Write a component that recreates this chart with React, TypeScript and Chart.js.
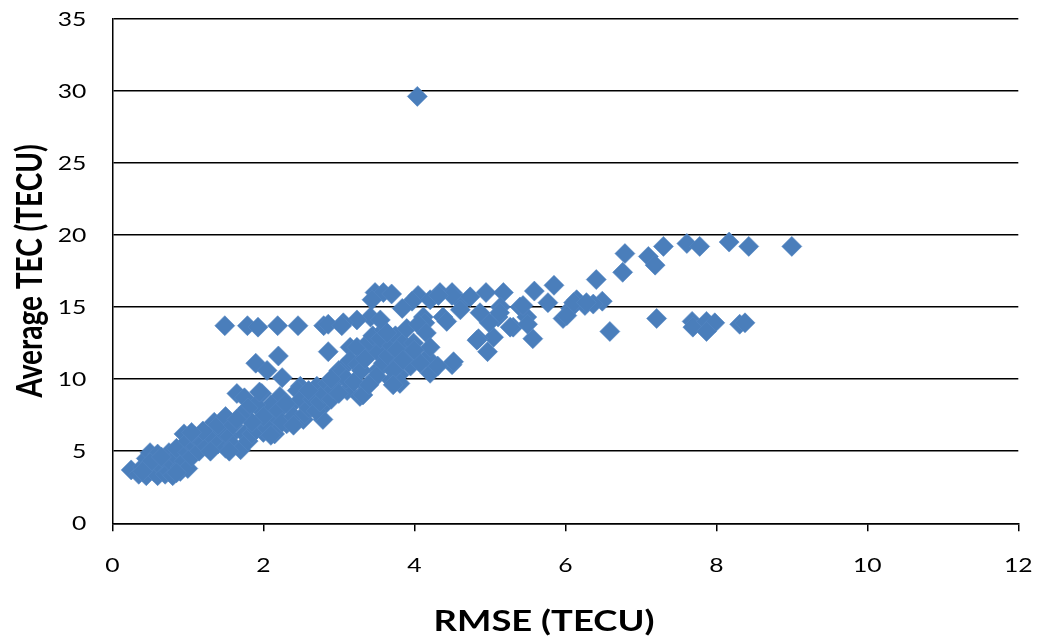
import React, { useEffect, useRef } from "react";
import { Chart, registerables } from "chart.js";

Chart.register(...registerables);

// ---- Data (RMSE in TECU, Average TEC in TECU) ----
const outlierPoints: [number, number][] = [[4.04, 29.6]];

const flatRowPoints: [number, number][] = [
  [1.49, 13.7], [1.79, 13.7], [1.93, 13.6], [2.19, 13.7], [2.46, 13.7],
  [2.8, 13.7], [2.86, 13.8], [3.04, 13.7],
];

const highRightPoints: [number, number][] = [
  [6.79, 18.7], [6.76, 17.4], [7.1, 18.5], [7.19, 17.9], [7.3, 19.2],
  [7.61, 19.4], [7.78, 19.2], [8.17, 19.5], [8.43, 19.2], [9.0, 19.2],
];

const lowRightPoints: [number, number][] = [
  [6.59, 13.3], [7.21, 14.2], [7.68, 14.0], [7.69, 13.6], [7.87, 14.0],
  [7.98, 13.9], [7.87, 13.3], [8.31, 13.8], [8.38, 13.9],
];

const midRightPoints: [number, number][] = [
  [6.41, 16.9], [6.49, 15.4], [6.15, 15.5], [6.07, 14.9], [5.97, 14.2],
  [6.26, 15.1], [6.37, 15.2], [6.11, 15.3], [6.28, 15.3], [6.02, 14.4],
  [5.85, 16.5], [5.59, 16.1], [5.77, 15.3], [5.57, 12.8], [5.4, 15.0],
  [5.49, 14.3], [5.31, 13.6], [5.5, 13.8], [5.18, 16.0], [4.95, 16.0],
  [5.11, 14.3], [5.14, 15.0], [5.05, 12.9], [4.97, 11.9], [4.85, 12.8],
  [5.44, 15.1], [5.27, 13.6], [5.13, 14.6], [4.99, 13.9], [4.74, 15.7],
  [4.87, 14.6], [4.83, 12.7],
];

const upperClusterPoints: [number, number][] = [
  [3.48, 16.0], [3.59, 16.0], [3.7, 15.9], [3.44, 15.5], [4.05, 15.8],
  [3.97, 15.4], [3.84, 14.9], [4.34, 16.0], [4.5, 16.0], [4.21, 15.5],
  [4.38, 14.3], [4.12, 14.3], [4.63, 15.3], [4.5, 15.8], [4.32, 15.8],
  [4.61, 14.8], [4.43, 14.0], [4.14, 13.9], [4.17, 11.5], [4.21, 10.4],
  [4.5, 11.0], [4.52, 11.2], [4.31, 10.9], [3.64, 13.2], [3.9, 13.5],
  [4.05, 13.8], [4.16, 13.2], [4.21, 12.2], [3.99, 12.5], [3.77, 12.0],
  [3.85, 11.3], [4.08, 11.1], [3.42, 14.3], [3.55, 14.1], [3.24, 14.1],
  [3.06, 13.9], [3.72, 10.6], [3.81, 9.7], [3.72, 9.6], [4.0, 12.0],
];

const midClusterPoints: [number, number][] = [
  [3.15, 12.2], [3.37, 11.8], [3.51, 10.6], [3.37, 9.5], [3.06, 10.8],
  [2.97, 9.9], [3.11, 9.2], [3.28, 8.8], [3.59, 11.8], [3.32, 8.9],
  [2.93, 9.3], [3.02, 10.4], [3.15, 11.3], [3.24, 12.2], [3.51, 11.9],
  [3.59, 11.1], [3.1, 10.0], [3.2, 9.8], [3.25, 11.0], [3.3, 10.6],
  [3.35, 11.4], [3.4, 12.6], [3.45, 13.0], [3.5, 10.2], [3.55, 12.8],
  [3.6, 13.4], [3.65, 11.6], [3.7, 12.3], [3.7, 9.9], [3.75, 13.0],
  [3.8, 11.1], [3.8, 10.3], [3.85, 12.5], [3.9, 11.6], [3.95, 10.9],
  [3.4, 9.6], [3.0, 9.0], [2.9, 10.0],
];

const leftIsolatedPoints: [number, number][] = [
  [2.86, 11.9], [2.2, 11.6], [1.9, 11.1], [2.05, 10.6], [2.25, 10.1],
];

const lowerMidPoints: [number, number][] = [
  [1.98, 9.0], [2.49, 9.5], [2.71, 9.5], [2.22, 8.8], [2.35, 8.1],
  [2.58, 8.3], [2.79, 8.1], [2.09, 7.2], [1.91, 6.5], [2.31, 6.9],
  [2.53, 7.2], [2.79, 7.2], [2.05, 6.6], [2.1, 8.2], [2.15, 6.2],
  [2.2, 7.8], [2.25, 7.0], [2.3, 8.3], [2.4, 7.4], [2.45, 9.2],
  [2.5, 8.6], [2.55, 7.6], [2.6, 8.0], [2.65, 8.6], [2.7, 7.8],
  [2.75, 8.4], [2.8, 9.0], [2.85, 9.7], [2.9, 8.6], [2.95, 10.2],
  [3.0, 10.6], [2.4, 6.8], [2.6, 9.2], [1.65, 9.0], [1.75, 8.7],
  [1.9, 8.2], [1.8, 8.0], [2.0, 7.4], [1.85, 7.0], [1.7, 7.5],
  [1.5, 7.4], [1.6, 6.8], [1.65, 7.2], [1.95, 9.1], [2.1, 6.1],
];

const lowBandPoints: [number, number][] = [
  [0.25, 3.7], [0.35, 3.4], [0.4, 3.9], [0.45, 4.5], [0.45, 3.3],
  [0.5, 4.9], [0.55, 3.6], [0.55, 4.2], [0.6, 3.3], [0.6, 4.8],
  [0.65, 3.9], [0.7, 3.4], [0.7, 4.4], [0.75, 4.9], [0.75, 3.6],
  [0.8, 3.3], [0.8, 4.1], [0.85, 4.6], [0.85, 5.2], [0.9, 3.6],
  [0.9, 3.9], [0.95, 4.3], [0.95, 6.2], [1.0, 3.8], [1.0, 4.9],
  [1.0, 5.7], [0.5, 4.2], [0.65, 4.6], [0.85, 3.5], [0.4, 3.6],
  [1.05, 4.6], [1.1, 5.3], [1.1, 6.0], [1.15, 5.0], [1.2, 5.6],
  [1.25, 5.3], [1.3, 6.1], [1.35, 7.0], [1.4, 5.5], [1.45, 6.4],
  [1.5, 5.2], [1.55, 6.0], [1.6, 5.4], [1.7, 5.1], [1.75, 6.2],
  [1.8, 5.7], [1.85, 6.2], [1.9, 6.6], [2.0, 6.3], [1.3, 5.0],
  [1.2, 6.4], [1.4, 6.8], [1.55, 5.0], [1.05, 6.3],
];

const xTicks = [0, 2, 4, 6, 8, 10, 12];
const yTicks = [0, 5, 10, 15, 20, 25, 30, 35];
const xTitle = "RMSE (TECU)";
const yTitle = "Average TEC (TECU)";

const MARKER_COLOR = "#4A7EBB";
const SX = 1.3; // horizontal stretch of the reference's lettering

const allPoints = [
  ...lowBandPoints,
  ...lowerMidPoints,
  ...leftIsolatedPoints,
  ...midClusterPoints,
  ...upperClusterPoints,
  ...midRightPoints,
  ...flatRowPoints,
  ...lowRightPoints,
  ...highRightPoints,
  ...outlierPoints,
].map(([x, y]) => ({ x, y }));

const textPlugin = {
  id: "stretchedText",
  afterDraw(chart: any) {
    const ctx = chart.ctx as CanvasRenderingContext2D;
    const xs = chart.scales.x;
    const ys = chart.scales.y;
    const area = chart.chartArea;
    ctx.save();
    ctx.fillStyle = "#000";
    ctx.textBaseline = "middle";
    ctx.font = "19px Lato";
    ctx.textAlign = "right";
    for (const v of yTicks) {
      ctx.save();
      ctx.translate(area.left - 26, ys.getPixelForValue(v) + 1);
      ctx.scale(SX, 1);
      ctx.fillText(String(v), 0, 0);
      ctx.restore();
    }
    ctx.textAlign = "center";
    for (const v of xTicks) {
      ctx.save();
      ctx.translate(xs.getPixelForValue(v), area.bottom + 43);
      ctx.scale(SX, 1);
      ctx.fillText(String(v), 0, 0);
      ctx.restore();
    }
    ctx.font = "bold 28px Lato";
    ctx.save();
    ctx.translate(544, 622);
    ctx.scale(SX, 1);
    ctx.fillText(xTitle, 0, 0);
    ctx.restore();
    ctx.save();
    ctx.translate(30, (area.top + area.bottom) / 2);
    ctx.rotate(-Math.PI / 2);
    ctx.scale(1, SX);
    ctx.fillText(yTitle, 0, 0);
    ctx.restore();
    ctx.restore();
  },
};

export default function App() {
  const ref = useRef<HTMLCanvasElement | null>(null);
  useEffect(() => {
    document.body.style.margin = "0";
    const canvas = ref.current;
    if (!canvas) return;
    const chart = new Chart(canvas, {
      type: "scatter",
      data: {
        datasets: [
          {
            label: "Average TEC",
            data: allPoints,
            pointStyle: "rectRot",
            pointRadius: 10,
            pointHoverRadius: 10,
            backgroundColor: MARKER_COLOR,
            borderColor: "#5486C2",
            borderWidth: 0.6,
          },
        ],
      },
      options: {
        responsive: false,
        animation: false,
        devicePixelRatio: 1,
        layout: { padding: { left: 0, right: 18.7, top: 18.5, bottom: 0 } },
        plugins: {
          legend: { display: false },
          tooltip: { enabled: false },
        },
        scales: {
          x: {
            type: "linear",
            min: 0,
            max: 12,
            ticks: { stepSize: 2, display: false },
            grid: {
              drawOnChartArea: false,
              drawTicks: true,
              tickLength: 8,
              color: "#000",
              lineWidth: 1.5,
            },
            border: { display: true, color: "#000", width: 1.5 },
            afterFit: (s: any) => {
              s.height = 115.7;
            },
          },
          y: {
            type: "linear",
            min: 0,
            max: 35,
            ticks: { stepSize: 5, display: false },
            grid: {
              drawTicks: false,
              color: "#000",
              lineWidth: 1.5,
            },
            border: { display: true, color: "#000", width: 1.5 },
            afterFit: (s: any) => {
              s.width = 112.3;
            },
          },
        },
      },
      plugins: [textPlugin],
    });
    return () => chart.destroy();
  }, []);
  return (
    <div style={{ width: 1037, height: 639 }}>
      <canvas ref={ref} width={1037} height={639} style={{ display: "block" }} />
    </div>
  );
}
